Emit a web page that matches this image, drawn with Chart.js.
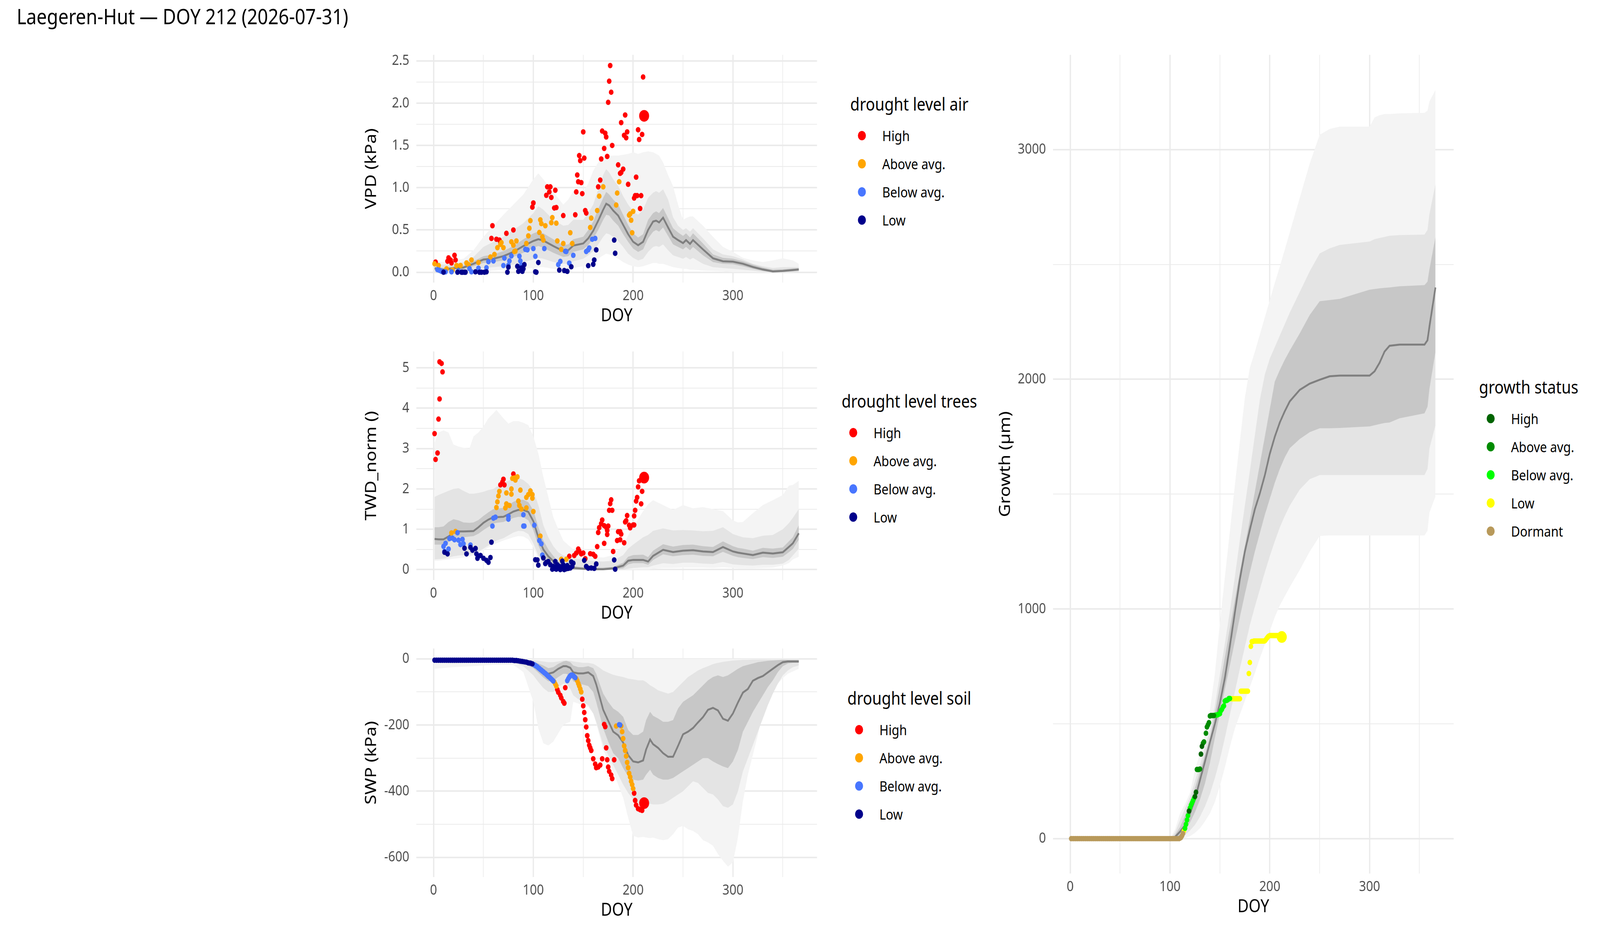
<!DOCTYPE html>
<html>
<head>
<meta charset="utf-8">
<script src="https://cdn.jsdelivr.net/npm/chart.js@4.4.1/dist/chart.umd.min.js"></script>
<style>
  html, body { margin: 0; padding: 0; overflow: hidden; background: #fff; }
  #page { position: absolute; left: 0; top: 0; width: 4800px; height: 2400px; transform-origin: 0 0; background: #fff; font-family: "Noto Sans", sans-serif; }
  canvas { position: absolute; }
  .title { position: absolute; left: 50px; top: 13px; font-size: 55px; line-height: 55px; white-space: nowrap; color: #000; }
  .legend { position: absolute; white-space: nowrap; }
  .legend .lt { font-size: 46px; line-height: 46px; height: 46px; margin-bottom: 23px; color: #000; }
  .legend .li { position: relative; height: 72px; line-height: 72px; font-size: 37px; padding-left: 96px; color: #000; }
  .legend .dot { position: absolute; left: 23px; top: 24px; width: 24px; height: 24px; border-radius: 50%; }
</style>
</head>
<body>
<div id="page">
  <div class="title">Laegeren-Hut — DOY 212 (2026-07-31)</div>
</div>
<script>
// ---- axes ----
const doyMin = -17.25, doyMax = 384.25;
const doyTicks = [0, 50, 100, 150, 200, 250, 300, 350];
const doyMajor = [0, 100, 200, 300];
const doyLabels = ['0', '100', '200', '300'];

const vpdTicks = [0, 0.25, 0.5, 0.75, 1, 1.25, 1.5, 1.75, 2, 2.25, 2.5];
const vpdMajor = [0, 0.5, 1, 1.5, 2, 2.5];
const vpdLabels = ['0.0', '0.5', '1.0', '1.5', '2.0', '2.5'];
const twdTicks = [0, 0.5, 1, 1.5, 2, 2.5, 3, 3.5, 4, 4.5, 5];
const twdMajor = [0, 1, 2, 3, 4, 5];
const twdLabels = ['0', '1', '2', '3', '4', '5'];
const swpTicks = [-600, -500, -400, -300, -200, -100, 0];
const swpMajor = [-600, -400, -200, 0];
const swpLabels = ['-600', '-400', '-200', '0'];
const growthTicks = [0, 500, 1000, 1500, 2000, 2500, 3000];
const growthMajor = [0, 1000, 2000, 3000];
const growthLabels = ['0', '1000', '2000', '3000'];

const levelNames = ['High', 'Above avg.', 'Below avg.', 'Low'];
const levelColors = ['#FF0000', '#FFA500', '#4876FF', '#00008B'];
const growthNames = ['High', 'Above avg.', 'Below avg.', 'Low', 'Dormant'];
const growthColors = ['#006400', '#008B00', '#00FF00', '#FFFF00', '#B8995A'];

// ---- VPD climatology ----
const vpdKnots = [1,10,20,30,40,50,60,70,80,90,100,105,110,120,130,135,140,150,155,160,165,170,173,176,180,185,190,195,200,205,210,215,220,223,226,230,235,240,245,250,253,257,260,270,280,290,300,310,320,330,340,350,360,366];
const vpdMedian = [0.045,0.03,0.048,0.056,0.10,0.15,0.16,0.19,0.24,0.31,0.37,0.39,0.375,0.31,0.25,0.26,0.315,0.34,0.40,0.49,0.61,0.74,0.81,0.79,0.73,0.67,0.56,0.45,0.36,0.32,0.36,0.50,0.60,0.61,0.59,0.645,0.53,0.42,0.38,0.345,0.38,0.335,0.38,0.27,0.165,0.13,0.125,0.10,0.062,0.032,0.009,0.015,0.026,0.032];
const vpdInLo = [0.02,0.01,0.03,0.035,0.07,0.11,0.12,0.14,0.18,0.23,0.29,0.31,0.29,0.23,0.18,0.19,0.24,0.27,0.32,0.40,0.50,0.62,0.68,0.67,0.61,0.55,0.45,0.36,0.28,0.24,0.27,0.40,0.48,0.50,0.48,0.53,0.43,0.33,0.30,0.27,0.30,0.26,0.30,0.20,0.12,0.10,0.095,0.07,0.04,0.015,0.0,0.003,0.012,0.018];
const vpdInHi = [0.07,0.05,0.07,0.08,0.13,0.19,0.21,0.25,0.31,0.39,0.46,0.48,0.46,0.39,0.32,0.33,0.39,0.42,0.50,0.60,0.75,0.88,0.95,0.92,0.86,0.80,0.68,0.56,0.46,0.41,0.45,0.62,0.70,0.72,0.70,0.76,0.64,0.52,0.47,0.43,0.46,0.41,0.46,0.34,0.21,0.17,0.16,0.13,0.09,0.055,0.03,0.035,0.045,0.05];
const vpdMidLo = [0.0,0.0,0.0,0.01,0.03,0.05,0.06,0.07,0.09,0.12,0.15,0.17,0.16,0.12,0.10,0.10,0.13,0.16,0.20,0.25,0.33,0.42,0.46,0.45,0.42,0.37,0.30,0.22,0.17,0.14,0.16,0.24,0.30,0.31,0.30,0.33,0.26,0.20,0.18,0.16,0.18,0.15,0.17,0.10,0.06,0.05,0.04,0.03,0.02,0.005,0.0,0.0,0.0,0.0];
const vpdMidHi = [0.10,0.09,0.10,0.12,0.18,0.30,0.36,0.42,0.50,0.58,0.70,0.78,0.74,0.62,0.55,0.56,0.62,0.62,0.70,0.80,0.98,1.15,1.22,1.18,1.10,1.02,0.90,0.80,0.72,0.68,0.74,0.88,0.94,0.96,0.94,0.98,0.86,0.65,0.55,0.50,0.52,0.48,0.52,0.40,0.27,0.21,0.19,0.15,0.10,0.07,0.05,0.06,0.06,0.06];
const vpdOutLo = [0,0,0,0,0,0.01,0.02,0.03,0.03,0.04,0.05,0.06,0.06,0.04,0.03,0.03,0.05,0.07,0.09,0.12,0.16,0.20,0.22,0.21,0.19,0.16,0.12,0.09,0.07,0.06,0.07,0.09,0.11,0.11,0.10,0.10,0.08,0.06,0.05,0.04,0.04,0.03,0.03,0.02,0.015,0.01,0,0,0,0,0,0,0,0];
const vpdOutHi = [0.13,0.12,0.14,0.16,0.26,0.42,0.55,0.68,0.80,0.92,1.10,1.17,1.10,0.95,0.80,0.86,0.96,0.95,1.05,1.20,1.30,1.36,1.38,1.37,1.38,1.38,1.39,1.40,1.42,1.40,1.42,1.43,1.42,1.40,1.38,1.30,1.15,1.02,0.80,0.62,0.64,0.66,0.66,0.55,0.42,0.30,0.24,0.17,0.14,0.12,0.14,0.165,0.14,0.10];

// ---- VPD this year [doy, kPa] ----
const vpdHigh = [[2,0.12],[14,0.13],[15,0.17],[17,0.145],[18,0.11],[21,0.20],[22,0.145],[58,0.40],[59,0.55],[63,0.39],[66,0.38],[67,0.35],[73,0.46],[80,0.50],[99,0.77],[100,0.82],[113,0.91],[114,1.01],[116,0.95],[117,1.01],[118,0.885],[121,0.76],[122,0.97],[123,0.765],[130,0.67],[142,0.68],[143,0.95],[144,1.15],[145,1.07],[146,1.38],[147,1.32],[148,1.06],[149,0.93],[150,1.66],[151,1.35],[152,0.73],[153,0.70],[165,1.01],[167,1.09],[168,1.34],[169,1.67],[171,1.465],[172,1.645],[173,1.60],[174,1.37],[175,2.01],[176,2.26],[177,2.445],[178,2.13],[179,1.50],[185,1.27],[187,1.17],[188,1.18],[188,1.77],[190,1.22],[191,1.62],[192,1.86],[193,1.59],[194,1.66],[195,1.04],[201,0.877],[202,0.906],[203,1.125],[204,0.906],[205,1.685],[206,1.57],[207,0.754],[208,0.906],[209,1.63],[210,2.31]];
const vpdAbove = [[1,0.10],[5,0.08],[13,0.04],[19,0.025],[23,0.08],[27,0.08],[33,0.11],[35,0.09],[38,0.145],[45,0.115],[57,0.18],[61,0.21],[64,0.29],[67,0.33],[68,0.35],[70,0.29],[78,0.36],[80,0.32],[81,0.245],[82,0.25],[83,0.37],[93,0.34],[95,0.43],[96,0.52],[97,0.61],[106,0.47],[107,0.62],[108,0.576],[109,0.42],[110,0.38],[112,0.55],[118,0.586],[119,0.646],[123,0.58],[124,0.37],[128,0.27],[130,0.34],[137,0.467],[139,0.34],[157,0.53],[158,0.64],[164,0.73],[166,0.90],[170,1.01],[183,0.795],[184,0.937],[186,1.07],[196,0.675],[197,0.69],[198,0.615],[199,0.467],[200,0.72]];
const vpdBelow = [[4,0.03],[6,0.022],[8,0.01],[12,0.005],[18,0.005],[25,0.014],[36,0.043],[38,0.005],[45,0.048],[53,0.053],[55,0.125],[60,0.133],[70,0.079],[71,0.167],[75,0.082],[76,0.133],[78,0.193],[86,0.19],[87,0.133],[88,0.082],[92,0.27],[94,0.265],[100,0.28],[102,0.188],[111,0.28],[125,0.09],[127,0.128],[132,0.248],[133,0.245],[136,0.108],[140,0.20],[153,0.245],[155,0.265],[156,0.287],[159,0.39],[162,0.40]];
const vpdLow = [[10,0.0],[24,0.0],[28,0.0],[29,0.0],[31,0.0],[32,0.0],[42,0.005],[46,0.0],[48,0.0],[51,0.0],[53,0.005],[74,0.0],[75,0.06],[84,0.07],[85,0.01],[88,0.05],[89,0.01],[90,0.04],[91,0.09],[102,0.005],[103,0.0],[105,0.115],[126,0.025],[131,0.02],[134,0.01],[138,0.065],[155,0.077],[160,0.094],[161,0.145],[163,0.265],[181,0.38],[182,0.224]];
const vpdToday = [211, 1.85];

// ---- TWD_norm climatology ----
const twdKnots = [1,5,10,15,20,25,30,36,40,45,50,55,60,63,70,75,80,85,90,95,100,105,110,115,120,125,130,140,150,160,170,180,190,195,200,210,215,220,230,240,250,260,270,280,290,300,305,310,320,330,340,350,356,360,366];
const twdMedian = [0.76,0.75,0.75,0.82,0.92,0.945,0.945,0.95,0.955,1.05,1.16,1.24,1.30,1.30,1.31,1.37,1.44,1.48,1.48,1.43,1.20,0.80,0.50,0.33,0.21,0.11,0.076,0.04,0.022,0.01,0.01,0.03,0.10,0.22,0.24,0.24,0.20,0.34,0.49,0.435,0.47,0.48,0.45,0.435,0.56,0.45,0.42,0.40,0.36,0.42,0.40,0.43,0.56,0.65,0.90];
const twdInLo = [0.62,0.62,0.62,0.68,0.78,0.80,0.80,0.82,0.83,0.89,0.98,1.06,1.14,1.16,1.18,1.23,1.28,1.31,1.30,1.22,0.98,0.60,0.33,0.20,0.10,0.05,0.02,0,0,0,0,0,0.03,0.13,0.16,0.16,0.12,0.24,0.38,0.33,0.36,0.37,0.34,0.33,0.44,0.34,0.31,0.29,0.26,0.31,0.29,0.32,0.43,0.51,0.74];
const twdInHi = [1.05,1.05,1.07,1.18,1.25,1.22,1.17,1.16,1.17,1.23,1.33,1.42,1.50,1.51,1.53,1.60,1.68,1.73,1.73,1.67,1.47,1.05,0.72,0.50,0.34,0.21,0.15,0.09,0.06,0.05,0.05,0.07,0.17,0.32,0.36,0.37,0.31,0.47,0.63,0.57,0.61,0.62,0.58,0.56,0.70,0.58,0.54,0.52,0.47,0.54,0.52,0.55,0.70,0.80,1.10];
const twdMidLo = [0.25,0.26,0.27,0.30,0.33,0.35,0.36,0.38,0.40,0.45,0.52,0.60,0.68,0.72,0.78,0.85,0.92,0.96,0.95,0.88,0.65,0.35,0.15,0.07,0.03,0.01,0,0,0,0,0,0,0,0.02,0.04,0.06,0.06,0.10,0.16,0.14,0.17,0.17,0.15,0.14,0.19,0.13,0.12,0.11,0.10,0.12,0.12,0.15,0.24,0.35,0.52];
const twdMidHi = [1.80,1.85,1.90,1.95,2.00,2.02,1.95,1.88,1.88,1.90,1.93,1.97,2.00,2.05,2.15,2.20,2.27,2.27,2.22,2.12,1.95,1.60,1.10,0.80,0.58,0.43,0.35,0.28,0.25,0.21,0.20,0.22,0.36,0.52,0.62,0.80,0.86,0.96,1.02,0.97,0.98,0.97,0.95,0.96,1.05,0.88,0.84,0.80,0.78,0.84,0.86,1.00,1.15,1.28,1.50];
const twdOutLo = [0.22,0.22,0.24,0.25,0.27,0.28,0.30,0.32,0.36,0.42,0.48,0.55,0.62,0.65,0.72,0.76,0.80,0.83,0.82,0.75,0.55,0.28,0.10,0.04,0.01,0,0,0,0,0,0,0,0,0,0,0,0,0.02,0.04,0.04,0.05,0.05,0.05,0.04,0.06,0.04,0.03,0.03,0.03,0.04,0.05,0.10,0.16,0.25,0.32];
const twdOutHi = [3.15,3.40,3.45,3.40,3.10,3.05,3.02,3.00,3.30,3.40,3.55,3.75,3.88,3.96,3.75,3.62,3.68,3.68,3.64,3.58,3.30,2.88,2.30,1.80,1.30,1.00,0.72,0.50,0.38,0.32,0.30,0.36,0.60,0.85,1.05,1.45,1.62,1.72,1.60,1.48,1.60,1.52,1.55,1.50,1.45,1.22,1.17,1.18,1.40,1.60,1.72,1.85,2.08,2.10,2.20];

// ---- TWD_norm this year ----
const twdHigh = [[1,3.37],[2,2.73],[4,2.89],[5,3.73],[6,4.23],[6,5.15],[8,5.11],[9,4.90],[67,2.10],[69,2.17],[70,2.24],[71,2.10],[80,2.37],[136,0.33],[141,0.35],[143,0.41],[145,0.51],[146,0.46],[148,0.39],[150,0.41],[152,0.27],[157,0.395],[160,0.38],[162,0.33],[164,0.57],[165,0.92],[166,1.04],[168,1.14],[169,1.23],[171,1.09],[171,0.65],[173,1.05],[174,0.97],[174,0.87],[175,1.08],[176,1.47],[177,1.635],[178,1.73],[179,1.47],[180,0.45],[184,0.72],[185,0.94],[187,0.94],[187,0.74],[188,0.88],[191,0.665],[192,1.18],[193,1.21],[194,1.34],[196,1.10],[197,1.035],[200,1.107],[201,1.107],[201,1.33],[202,1.47],[203,1.70],[204,1.79],[205,2.05],[206,2.20],[208,1.63],[209,1.94]];
const twdAbove = [[18,0.91],[22,0.945],[63,1.54],[64,1.68],[65,1.825],[66,1.94],[72,1.53],[73,1.90],[73,1.63],[76,1.59],[78,1.87],[78,2.00],[79,2.26],[81,2.27],[82,2.22],[84,2.30],[85,1.70],[86,1.59],[87,1.97],[88,1.50],[93,1.53],[93,1.79],[95,1.86],[97,1.95],[99,1.86],[99,1.77],[100,1.44],[107,0.83],[128,0.255],[133,0.255]];
const twdBelow = [[10,0.575],[11,0.45],[12,0.65],[15,0.51],[16,0.77],[19,0.78],[21,0.74],[24,0.915],[25,0.73],[27,0.62],[29,0.75],[30,0.64],[37,0.61],[59,1.08],[60,1.275],[62,1.30],[75,1.25],[75,1.32],[90,1.36],[90,1.08],[91,1.08],[101,1.10],[106,0.72],[108,0.64],[109,0.36]];
const twdLow = [[11,0.43],[14,0.39],[31,0.53],[33,0.39],[37,0.55],[39,0.48],[42,0.525],[43,0.39],[44,0.28],[47,0.35],[50,0.28],[53,0.23],[55,0.18],[57,0.30],[58,0.68],[102,0.245],[104,0.24],[105,0.11],[110,0.29],[112,0.15],[113,0.18],[115,0.20],[117,0.12],[119,0.01],[120,0.08],[121,0.03],[122,0.20],[123,0.01],[124,0.12],[125,0.05],[126,0.08],[127,0.0],[128,0.02],[129,0.21],[130,0.12],[131,0.0],[132,0.06],[133,0.02],[134,0.10],[135,0.03],[136,0.05],[137,0.04],[138,0.19],[139,0.08],[140,0.16],[151,0.23],[153,0.08],[155,0.035],[158,0.04],[161,0.03],[163,0.14],[181,0.24],[182,0.01]];
const twdToday = [211, 2.28];

// ---- SWP climatology ----
const swpKnots = [1,20,40,60,80,90,100,105,110,115,120,125,130,133,137,140,145,150,155,160,163,167,170,175,180,185,190,195,200,205,210,213,217,220,225,230,235,240,245,250,255,260,265,270,275,280,285,290,295,300,305,310,315,320,325,330,335,340,345,350,355,360,366];
const swpMedian = [-3,-3,-3,-3,-4,-8,-16,-26,-36,-45,-41,-30,-22,-22,-27,-41,-44,-44,-41,-52,-77,-121,-154,-187,-220,-231,-253,-291,-310,-313,-307,-274,-244,-258,-269,-285,-296,-296,-263,-228,-220,-209,-192,-176,-154,-148,-156,-181,-187,-165,-132,-102,-91,-66,-58,-52,-41,-30,-19,-10,-8,-8,-8];
const swpInLo = [-6,-6,-6,-6,-8,-14,-28,-42,-56,-68,-66,-55,-45,-45,-52,-68,-75,-78,-82,-100,-130,-175,-210,-250,-285,-300,-330,-355,-365,-368,-365,-350,-335,-350,-360,-365,-365,-360,-350,-340,-330,-320,-310,-300,-300,-310,-318,-325,-330,-310,-275,-220,-190,-160,-135,-110,-85,-65,-40,-22,-14,-12,-12];
const swpInHi = [-1,-1,-1,-1,-2,-4,-8,-14,-20,-28,-25,-15,-8,-6,-10,-20,-25,-25,-22,-28,-45,-80,-105,-130,-150,-160,-175,-215,-230,-230,-220,-185,-160,-172,-180,-190,-190,-185,-150,-130,-120,-110,-95,-80,-65,-55,-50,-55,-50,-40,-30,-22,-18,-14,-10,-8,-6,-5,-4,-3,-3,-3,-3];
const swpMidLo = [-12,-14,-12,-10,-12,-22,-50,-70,-88,-100,-100,-85,-75,-75,-90,-110,-122,-130,-140,-165,-190,-230,-260,-290,-320,-350,-380,-405,-425,-435,-440,-440,-438,-440,-440,-438,-430,-420,-410,-400,-385,-370,-375,-390,-405,-410,-425,-445,-450,-440,-400,-340,-300,-260,-220,-180,-140,-105,-75,-50,-35,-25,-20];
const swpMidHi = [0,0,0,0,0,-1,-4,-6,-8,-10,-10,-8,-5,-5,-6,-8,-10,-12,-12,-15,-20,-28,-35,-42,-48,-52,-55,-60,-62,-65,-65,-70,-80,-85,-95,-100,-105,-100,-85,-70,-55,-45,-35,-28,-22,-16,-12,-9,-7,-5,-4,-3,-3,-2,-2,-2,-2,-2,-2,-2,-2,-2,-2];
const swpOutLo = [-30,-25,-22,-18,-18,-40,-130,-210,-255,-262,-250,-225,-200,-195,-190,-130,-135,-140,-145,-165,-195,-240,-275,-310,-340,-380,-420,-480,-535,-540,-538,-540,-542,-540,-545,-548,-545,-530,-510,-505,-515,-520,-530,-548,-555,-565,-590,-610,-628,-615,-540,-430,-350,-290,-230,-160,-120,-95,-75,-58,-45,-38,-30];
const swpOutHi = [0,0,0,0,0,0,0,0,0,0,0,0,0,0,0,0,0,0,0,0,0,0,0,0,0,0,0,0,0,0,0,0,0,0,0,0,0,0,0,0,0,0,0,0,0,0,0,0,0,0,0,0,0,0,0,0,0,0,0,0,0,0,0];

// ---- SWP this year ----
const swpHigh = [[124,-93],[125,-101],[127,-110],[128,-118],[130,-129],[131,-134],[132,-87],[149,-122],[150,-142],[151,-162],[152,-184],[153,-206],[154,-232],[155,-247],[156,-261],[157,-269],[158,-277],[160,-302],[162,-318],[163,-329],[165,-327],[167,-321],[169,-302],[171,-198],[172,-205],[173,-269],[174,-305],[175,-327],[176,-340],[178,-351],[179,-362],[181,-305],[201,-406],[202,-428],[203,-442],[205,-453],[207,-456],[209,-458]];
const swpAbove = [[121,-70],[122,-76],[123,-82],[143,-60],[144,-66],[145,-74],[146,-82],[147,-91],[148,-100],[183,-203],[188,-203],[189,-220],[190,-241],[191,-263],[192,-277],[193,-294],[194,-313],[195,-329],[196,-346],[197,-357],[198,-370],[199,-380],[200,-392]];
const swpBelow = [[101,-18],[102,-20],[103,-22],[104,-24],[105,-27],[106,-29],[107,-32],[108,-34],[109,-37],[110,-39],[111,-42],[112,-44],[113,-47],[114,-50],[115,-53],[116,-55],[117,-58],[118,-61],[119,-64],[120,-67],[134,-66],[135,-60],[136,-55],[137,-51],[138,-49],[139,-49],[140,-51],[141,-54],[142,-57],[186,-199],[187,-200]];
const swpLow = [[1,-4],[3,-4],[5,-4],[7,-4],[9,-4],[11,-4],[13,-4],[15,-4],[17,-4],[19,-4],[21,-4],[23,-4],[25,-4],[27,-4],[29,-4],[31,-4],[33,-4],[35,-4],[37,-4],[39,-4],[41,-4],[43,-4],[45,-4],[47,-4],[49,-4],[51,-4],[53,-4],[55,-4],[57,-4],[59,-4],[61,-4],[63,-4],[65,-4],[67,-4],[69,-4],[71,-4],[73,-4],[75,-4],[77,-4],[79,-4],[81,-5],[83,-5],[85,-6],[87,-7],[89,-8],[91,-9],[93,-10],[95,-12],[97,-13],[99,-15]];
const swpToday = [211, -436];

// ---- Growth climatology ----
const growthKnots = [1,100,105,110,115,120,125,130,135,140,145,150,155,160,165,170,175,180,185,190,195,200,205,210,215,220,230,240,250,260,270,300,305,310,315,320,330,355,358,360,366];
const growthMedian = [0,0,7,30,58,110,170,255,335,420,500,590,700,840,985,1130,1250,1345,1434,1503,1582,1676,1750,1812,1861,1904,1954,1981,1998,2013,2016,2016,2035,2072,2121,2146,2151,2151,2170,2231,2400];
const growthInLo = [0,0,4,15,35,70,115,170,240,330,440,545,650,755,860,965,1065,1160,1250,1330,1410,1480,1550,1610,1660,1700,1740,1770,1787,1787,1788,1795,1800,1805,1810,1812,1830,1852,1880,1960,2120];
const growthInHi = [0,0,15,50,100,155,220,290,365,440,545,665,790,915,1040,1160,1275,1390,1510,1630,1750,1870,1990,2040,2085,2125,2200,2280,2340,2345,2350,2390,2393,2396,2398,2400,2405,2410,2425,2480,2620];
const growthMidLo = [0,0,0,5,15,35,60,95,140,195,265,345,440,540,640,740,835,930,1010,1085,1160,1230,1295,1355,1405,1450,1520,1565,1583,1583,1583,1583,1583,1583,1583,1583,1583,1583,1610,1700,1800];
const growthMidHi = [0,0,25,80,130,180,250,320,400,470,580,715,850,991,1140,1300,1450,1600,1755,1910,2020,2090,2140,2190,2240,2290,2380,2470,2548,2570,2585,2600,2610,2615,2620,2625,2628,2630,2650,2720,2850];
const growthOutLo = [0,0,0,0,3,10,25,45,75,110,160,230,310,400,480,540,600,660,720,785,845,905,965,1015,1055,1095,1170,1250,1318,1320,1320,1320,1320,1320,1320,1320,1320,1320,1340,1420,1490];
const growthOutHi = [0,0,40,110,150,200,300,370,450,560,720,940,1140,1340,1540,1730,1920,2050,2120,2195,2270,2345,2420,2490,2565,2640,2790,2940,3065,3090,3100,3100,3140,3150,3155,3155,3158,3160,3170,3210,3260];

// ---- Growth this year [doy, µm] ----
const growthHigh = [[119,120],[125,183],[126,202],[131,368],[132,402]];
const growthAbove = [[127,301],[128,301],[129,301],[130,303],[133,415],[134,421],[136,459],[137,486],[138,495],[139,505],[140,534],[141,536],[142,536],[143,536],[144,536]];
const growthBelow = [[115,45],[116,62],[117,81],[118,100],[120,133],[121,146],[122,155],[123,165],[124,175],[145,537],[146,538],[147,538],[148,540],[149,542],[150,544],[151,557],[152,563],[153,573],[154,578],[155,599],[156,602],[157,602],[158,605],[159,610],[160,610]];
const growthLow = [[114,34],[161,609],[162,609],[163,609],[164,609],[165,609],[166,609],[167,609],[168,609],[169,609],[170,609],[171,642],[172,642],[173,642],[174,642],[175,642],[176,642],[177,642],[178,642],[179,719],[180,767],[181,837],[182,858],[183,858],[184,860],[185,860],[186,860],[187,860],[188,860],[189,860],[190,860],[191,860],[192,860],[193,860],[194,860],[195,861],[196,866],[197,872],[198,878],[199,882],[200,884],[201,884],[202,884],[203,884],[204,884],[205,884],[206,884],[207,884],[208,884],[209,884]];
const growthDormant = [[1,0],[3,0],[5,0],[7,0],[9,0],[11,0],[13,0],[15,0],[17,0],[19,0],[21,0],[23,0],[25,0],[27,0],[29,0],[31,0],[33,0],[35,0],[37,0],[39,0],[41,0],[43,0],[45,0],[47,0],[49,0],[51,0],[53,0],[55,0],[57,0],[59,0],[61,0],[63,0],[65,0],[67,0],[69,0],[71,0],[73,0],[75,0],[77,0],[79,0],[81,0],[83,0],[85,0],[87,0],[89,0],[91,0],[93,0],[95,0],[97,0],[99,0],[101,0],[103,0],[105,0],[107,0],[109,0],[110,2],[111,5],[112,12],[113,22]];
const growthToday = [212, 878];

// ---- the sheet is laid out at 4800 x 2400 and stretched onto the real window ----
const page = document.getElementById('page');
const sx = window.innerWidth / 4800, sy = window.innerHeight / 2400;
page.style.transform = 'scale(' + sx + ',' + sy + ')';
document.body.style.width = window.innerWidth + 'px';
document.body.style.height = window.innerHeight + 'px';

Chart.defaults.font.family = '"Noto Sans", sans-serif';

const xy = (pairs) => pairs.map(([x, y]) => ({x, y}));
const along = (days, vals) => days.map((d, i) => ({x: d, y: vals[i]}));

function bandSets(days, lo, hi, color, order) {
  return [
    {data: along(days, lo), borderColor: 'rgba(0,0,0,0)', borderWidth: 0, pointRadius: 0, fill: false, order},
    {data: along(days, hi), borderColor: 'rgba(0,0,0,0)', borderWidth: 0, pointRadius: 0, fill: '-1', backgroundColor: color, order}
  ];
}

function pointSet(pairs, color, radius, order) {
  return {data: xy(pairs), showLine: false, pointRadius: radius, pointBackgroundColor: color,
          pointBorderColor: 'rgba(0,0,0,0)', pointBorderWidth: 0, order};
}

function makePanel(p) {
  const canvas = document.createElement('canvas');
  const w = 200 + p.w + 10, h = 24 + p.h + 120;
  canvas.width = w; canvas.height = h;
  canvas.style.left = (p.left - 200) + 'px';
  canvas.style.top = (p.top - 24) + 'px';
  canvas.style.width = w + 'px'; canvas.style.height = h + 'px';
  page.appendChild(canvas);

  const c = p.clim;
  const datasets = [];
  p.series.forEach(([pairs, color]) => datasets.push(pointSet(pairs, color, 7, 0)));
  datasets.push(pointSet([p.today[0]], p.today[1], 15, -1));
  datasets.push({data: along(c[0], c[1]), borderColor: '#7F7F7F', borderWidth: 5, pointRadius: 0, fill: false, tension: 0, order: 1});
  datasets.push(...bandSets(c[0], c[2], c[3], '#C7C7C7', 2));
  datasets.push(...bandSets(c[0], c[4], c[5], '#E4E4E4', 3));
  datasets.push(...bandSets(c[0], c[6], c[7], '#F4F4F4', 4));

  const gridWidth = (major) => (ctx) => (ctx.tick && major.includes(ctx.tick.value)) ? 4 : 2;

  new Chart(canvas, {
    type: 'line',
    data: {datasets},
    options: {
      responsive: false,
      devicePixelRatio: 1,
      animation: false,
      events: [],
      layout: {padding: {top: 24, right: 10, left: 0, bottom: 0}},
      plugins: {legend: {display: false}, tooltip: {enabled: false}},
      scales: {
        x: {
          type: 'linear', bounds: 'data', min: doyMin, max: doyMax,
          afterBuildTicks: (s) => { s.ticks = doyTicks.map(v => ({value: v})); },
          afterFit: (s) => { s.height = 120; },
          grid: {color: '#EBEBEB', lineWidth: gridWidth(doyMajor), drawTicks: false},
          border: {display: false},
          ticks: {autoSkip: false, maxRotation: 0, padding: 12, color: '#4D4D4D', font: {size: 37},
                  callback: (v) => { const i = doyMajor.indexOf(v); return i >= 0 ? doyLabels[i] : ''; }},
          title: {display: true, text: 'DOY', color: '#000', font: {size: 46}, padding: {top: 0, bottom: 7}}
        },
        y: {
          type: 'linear', bounds: 'data', min: p.yMin, max: p.yMax,
          afterBuildTicks: (s) => { s.ticks = p.yTicks.map(v => ({value: v})); },
          afterFit: (s) => { s.width = 200; },
          grid: {color: '#EBEBEB', lineWidth: gridWidth(p.yMajor), drawTicks: false},
          border: {display: false},
          ticks: {autoSkip: false, padding: 21, color: '#4D4D4D', font: {size: 37},
                  callback: (v) => { const i = p.yMajor.indexOf(v); return i >= 0 ? p.yLabels[i] : ''; }},
          title: {display: true, text: p.yTitle, color: '#000', font: {size: 46}, padding: {top: p.yTitlePad, bottom: 0}}
        }
      }
    }
  });
}

makePanel({left: 1249, top: 121, w: 1207, h: 602, yMin: -0.1225, yMax: 2.5725,
  yTicks: vpdTicks, yMajor: vpdMajor, yLabels: vpdLabels, yTitle: 'VPD (kPa)', yTitlePad: 38,
  clim: [vpdKnots, vpdMedian, vpdInLo, vpdInHi, vpdMidLo, vpdMidHi, vpdOutLo, vpdOutHi],
  series: [[vpdLow, levelColors[3]], [vpdBelow, levelColors[2]], [vpdAbove, levelColors[1]], [vpdHigh, levelColors[0]]],
  today: [vpdToday, levelColors[0]]});

makePanel({left: 1249, top: 880, w: 1207, h: 604, yMin: -0.2575, yMax: 5.4075,
  yTicks: twdTicks, yMajor: twdMajor, yLabels: twdLabels, yTitle: 'TWD_norm ()', yTitlePad: 38,
  clim: [twdKnots, twdMedian, twdInLo, twdInHi, twdMidLo, twdMidHi, twdOutLo, twdOutHi],
  series: [[twdLow, levelColors[3]], [twdBelow, levelColors[2]], [twdAbove, levelColors[1]], [twdHigh, levelColors[0]]],
  today: [twdToday, levelColors[0]]});

makePanel({left: 1249, top: 1640, w: 1207, h: 604, yMin: -659.4, yMax: 31.4,
  yTicks: swpTicks, yMajor: swpMajor, yLabels: swpLabels, yTitle: 'SWP (kPa)', yTitlePad: 38,
  clim: [swpKnots, swpMedian, swpInLo, swpInHi, swpMidLo, swpMidHi, swpOutLo, swpOutHi],
  series: [[swpLow, levelColors[3]], [swpBelow, levelColors[2]], [swpAbove, levelColors[1]], [swpHigh, levelColors[0]]],
  today: [swpToday, levelColors[0]]});

makePanel({left: 3159, top: 121, w: 1207, h: 2114, yMin: -152, yMax: 3413,
  yTicks: growthTicks, yMajor: growthMajor, yLabels: growthLabels, yTitle: 'Growth (µm)', yTitlePad: 30,
  clim: [growthKnots, growthMedian, growthInLo, growthInHi, growthMidLo, growthMidHi, growthOutLo, growthOutHi],
  series: [[growthDormant, growthColors[4]], [growthHigh, growthColors[0]], [growthAbove, growthColors[1]], [growthBelow, growthColors[2]], [growthLow, growthColors[3]]],
  today: [growthToday, growthColors[3]]});

// ---- legends ----
function legend(title, names, colors, style) {
  const box = document.createElement('div');
  box.className = 'legend';
  Object.assign(box.style, style);
  let html = '<div class="lt">' + title + '</div>';
  names.forEach((n, i) => {
    html += '<div class="li"><span class="dot" style="background:' + colors[i] + '"></span>' + n + '</div>';
  });
  box.innerHTML = html;
  page.appendChild(box);
}
legend('drought level air', levelNames, levelColors, {left: '2728px', top: '242px', transform: 'translateX(-50%)'});
legend('drought level trees', levelNames, levelColors, {left: '2728px', top: '1002px', transform: 'translateX(-50%)'});
legend('drought level soil', levelNames, levelColors, {left: '2728px', top: '1762px', transform: 'translateX(-50%)'});
legend('growth status', growthNames, growthColors, {left: '4437px', top: '966px'});
</script>
</body>
</html>
